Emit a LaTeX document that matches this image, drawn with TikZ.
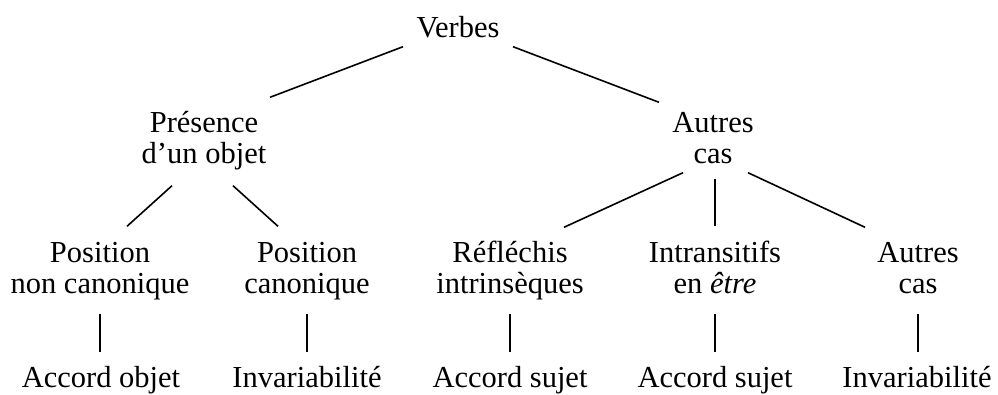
\documentclass[tikz,border=0pt]{standalone}
\usepackage{fontspec}
\setmainfont{Liberation Serif}

\begin{document}
\begin{tikzpicture}[x=1pt,y=-1pt,
  tnode/.style={anchor=north,inner sep=0pt,align=center,
    font=\fontsize{30.5}{31}\selectfont},
  branch/.style={line width=1.6pt}]
  \useasboundingbox (0,0) rectangle (998,394);
  % root and first level
  \node[tnode] (verbes) at (458,15.3) {Verbes\strut};
  \node[tnode] (presence) at (204,110.3) {Présence\strut\\d’un objet\strut};
  \node[tnode] (autres) at (713,110.3) {Autres\strut\\cas\strut};
  % second level
  \node[tnode] (posnc) at (100,240.3) {Position\strut\\non canonique\strut};
  \node[tnode] (posc) at (307,240.3) {Position\strut\\canonique\strut};
  \node[tnode] (reflechis) at (510,240.3) {Réfléchis\strut\\intrinsèques\strut};
  \node[tnode] (intrans) at (715,240.3) {Intransitifs\strut\\en \textit{être}\strut};
  \node[tnode] (autrescas) at (918,240.3) {Autres\strut\\cas\strut};
  % leaves
  \node[tnode] (accobjet) at (101,365.3) {Accord objet\strut};
  \node[tnode] (invarA) at (307,365.3) {Invariabilité\strut};
  \node[tnode] (accsujA) at (510,365.3) {Accord sujet\strut};
  \node[tnode] (accsujB) at (715,365.3) {Accord sujet\strut};
  \node[tnode] (invarB) at (917,365.3) {Invariabilité\strut};
  % branches
  \draw[branch] ([xshift=-55pt]verbes.south) -- ([xshift=66pt,yshift=13pt]presence.north);
  \draw[branch] ([xshift=55pt]verbes.south) -- ([xshift=-54pt,yshift=8pt]autres.north);
  \draw[branch] ([xshift=-32pt,yshift=-13pt]presence.south) -- ([xshift=27pt,yshift=14pt]posnc.north);
  \draw[branch] ([xshift=29pt,yshift=-13pt]presence.south) -- ([xshift=-29pt,yshift=14pt]posc.north);
  \draw[branch] ([xshift=-30pt]autres.south) -- ([xshift=54pt,yshift=13pt]reflechis.north);
  \draw[branch] ([xshift=2pt,yshift=-6pt]autres.south) -- ([yshift=14pt]intrans.north);
  \draw[branch] ([xshift=35pt]autres.south) -- ([xshift=-53pt,yshift=13pt]autrescas.north);
  \foreach \from/\to in {posnc/accobjet,posc/invarA,reflechis/accsujA,intrans/accsujB,autrescas/invarB}
    \draw[branch] ([yshift=-11pt]\from.south) -- ([yshift=13pt]\from.south |- \to.north);
\end{tikzpicture}
\end{document}
